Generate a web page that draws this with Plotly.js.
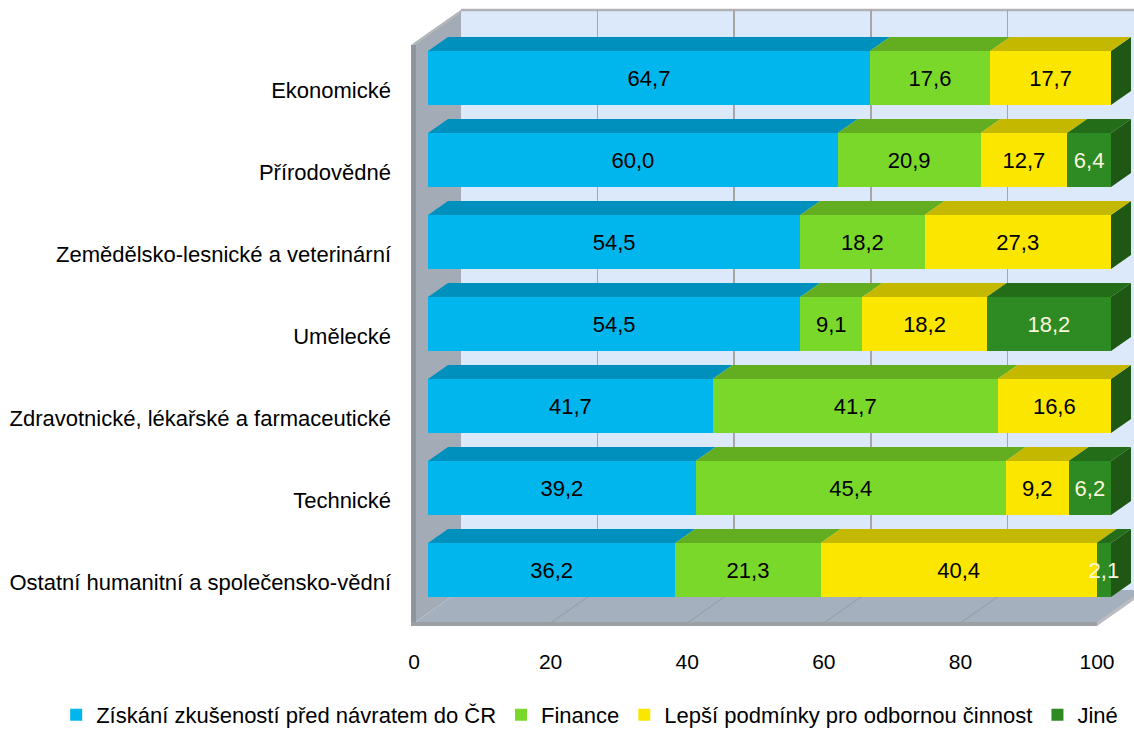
<!DOCTYPE html>
<html>
<head>
<meta charset="utf-8">
<script src="https://cdn.plot.ly/plotly-3.0.1.min.js"></script>
<style>
html,body{margin:0;padding:0;background:#fff;}
#chart{width:1134px;height:729px;}
</style>
</head>
<body>
<div id="chart"></div>
<script>
// ---------------- DATA ----------------
const categories = [
  "Ekonomické",
  "Přírodovědné",
  "Zemědělsko-lesnické a veterinární",
  "Umělecké",
  "Zdravotnické, lékařské a farmaceutické",
  "Technické",
  "Ostatní humanitní a společensko-vědní"
];
const seriesNames = [
  "Získání zkušeností před návratem do ČR",
  "Finance",
  "Lepší podmínky pro odbornou činnost",
  "Jiné"
];
const zkusenosti = [64.7, 60.0, 54.5, 54.5, 41.7, 39.2, 36.2];
const finance    = [17.6, 20.9, 18.2,  9.1, 41.7, 45.4, 21.3];
const lepsi      = [17.7, 12.7, 27.3, 18.2, 16.6,  9.2, 40.4];
const jine       = [ 0.0,  6.4,  0.0, 18.2,  0.0,  6.2,  2.1];
const xTicks = [0, 20, 40, 60, 80, 100];

// ---------------- STYLE / GEOMETRY ----------------
const W = 1134, H = 729;
const S = 6.83;            // px per unit along x
const X0 = 414;            // pixel of value 0 on front floor edge
const Y0 = 90, STEP = 82;  // pixel centre of first category & spacing
const FLOOR_Y = 623, TOP_Y = 43;
const BAR_OFF = [14, -12];     // bars front plane offset
const BAR_DEPTH = [20, -14];   // bar depth (top / side faces)
const WALL_OFF = [47, -33];    // back wall offset
const BAR_W = 0.66;

const frontCols = ["#00b6ec", "#7ad82a", "#fbe600", "#2e8a22"];
const topCols   = ["#0090be", "#63ae20", "#c5b800", "#236c18"];
const sideCol   = "#1e5814";
const textCols  = ["#000000", "#000000", "#000000", "#fbf7dc"];
const regular = "Liberation Sans, Arial, sans-serif";

const P = (px, py) => [px / W, 1 - py / H];
function pathPaper(pts) {
  return "M" + pts.map(p => { const q = P(p[0], p[1]); return q[0] + "," + q[1]; }).join(" L") + " Z";
}

const seriesVals = [zkusenosti, finance, lepsi, jine];
const yIdx = categories.map((c, i) => i);
const fmt = v => v > 0 ? v.toFixed(1).replace(".", ",") : "";

const yRange = [(FLOOR_Y - Y0) / STEP, (TOP_Y - Y0) / STEP];

// ---------------- TRACES ----------------
const traces = [];
// placeholder traces so that the helper subplots exist
traces.push({type: "scatter", x: [], y: [], xaxis: "x", yaxis: "y", showlegend: false, hoverinfo: "skip"});
traces.push({type: "scatter", x: [], y: [], xaxis: "x2", yaxis: "y2", showlegend: false, hoverinfo: "skip"});

seriesVals.forEach((vals, s) => {
  traces.push({
    type: "bar",
    orientation: "h",
    name: seriesNames[s],
    x: vals,
    y: yIdx,
    xaxis: "x3",
    yaxis: "y3",
    marker: {color: frontCols[s], line: {width: 0}},
    text: vals.map(fmt),
    texttemplate: "%{text}",
    textposition: "inside",
    insidetextanchor: "middle",
    textangle: 0,
    constraintext: "none",
    cliponaxis: false,
    textfont: {family: regular, size: 22, color: textCols[s]},
    hoverinfo: "x+name"
  });
});

// ---------------- SHAPES ----------------
const shapes = [];
// back wall
shapes.push({type: "rect", xref: "paper", yref: "paper", layer: "below",
  x0: P(X0 + WALL_OFF[0], 0)[0], x1: 1, y0: P(0, FLOOR_Y + WALL_OFF[1])[1], y1: P(0, TOP_Y + WALL_OFF[1])[1],
  fillcolor: "#dbe9fa", line: {width: 0}});
shapes.push({type: "line", xref: "paper", yref: "paper", layer: "below",
  x0: P(X0 + WALL_OFF[0], 0)[0], x1: 1, y0: P(0, TOP_Y + WALL_OFF[1])[1], y1: P(0, TOP_Y + WALL_OFF[1])[1],
  line: {color: "#b2b2b2", width: 2.5}});
// left wall
shapes.push({type: "path", xref: "paper", yref: "paper", layer: "below",
  path: pathPaper([[X0, TOP_Y], [X0 + WALL_OFF[0], TOP_Y + WALL_OFF[1]], [X0 + WALL_OFF[0], FLOOR_Y + WALL_OFF[1]], [X0, FLOOR_Y]]),
  fillcolor: "#a3acb6", line: {width: 0}});
shapes.push({type: "path", xref: "paper", yref: "paper", layer: "below",
  path: pathPaper([[X0 - 3, TOP_Y + 2], [X0 + WALL_OFF[0] - 3, TOP_Y + WALL_OFF[1] + 2], [X0 + WALL_OFF[0] + 1, TOP_Y + WALL_OFF[1] + 2], [X0 + 1, TOP_Y + 2]]),
  fillcolor: "#b4b8bc", line: {width: 0}});
shapes.push({type: "rect", xref: "paper", yref: "paper", layer: "below",
  x0: P(X0 - 3, 0)[0], x1: P(X0 + 2, 0)[0], y0: P(0, FLOOR_Y + 3)[1], y1: P(0, TOP_Y + 2)[1],
  fillcolor: "#8e959c", line: {width: 0}});
// floor
shapes.push({type: "path", xref: "paper", yref: "paper", layer: "below",
  path: pathPaper([[X0, FLOOR_Y], [X0 + WALL_OFF[0], FLOOR_Y + WALL_OFF[1]], [X0 + WALL_OFF[0] + S * 100, FLOOR_Y + WALL_OFF[1]], [X0 + S * 100, FLOOR_Y]]),
  fillcolor: "#a5b0be", line: {width: 0}});
xTicks.filter(v => v > 0 && v < 100).forEach(v => {
  shapes.push({type: "line", xref: "paper", yref: "paper", layer: "below",
    x0: P(X0 + S * v, 0)[0], y0: P(0, FLOOR_Y)[1],
    x1: P(X0 + WALL_OFF[0] + S * v, 0)[0], y1: P(0, FLOOR_Y + WALL_OFF[1])[1],
    line: {color: "#97a1ad", width: 1.2}});
});
shapes.push({type: "rect", xref: "paper", yref: "paper", layer: "below",
  x0: P(X0 - 3, 0)[0], x1: P(X0 + S * 100, 0)[0], y0: P(0, FLOOR_Y + 3)[1], y1: P(0, FLOOR_Y - 1)[1],
  fillcolor: "#9c9fa4", line: {width: 0}});
shapes.push({type: "path", xref: "paper", yref: "paper", layer: "below",
  path: pathPaper([[X0 + S * 100, FLOOR_Y - 1], [X0 + WALL_OFF[0] + S * 100, FLOOR_Y + WALL_OFF[1] - 1], [X0 + WALL_OFF[0] + S * 100, FLOOR_Y + WALL_OFF[1] + 3], [X0 + S * 100, FLOOR_Y + 3]]),
  fillcolor: "#b9bcc0", line: {width: 0}});

// bar top faces and side faces (in bar axes units)
const DX = BAR_DEPTH[0] / S;
const DY = BAR_DEPTH[1] / STEP;  // negative -> upward on reversed axis
categories.forEach((c, i) => {
  let cum = 0;
  const yTop = i - BAR_W / 2, yBot = i + BAR_W / 2;
  seriesVals.forEach((vals, s) => {
    const v = vals[i];
    if (v > 0) {
      const a = cum, b = cum + v;
      shapes.push({type: "path", xref: "x3", yref: "y3", layer: "above",
        path: `M${a},${yTop} L${b},${yTop} L${b + DX},${yTop + DY} L${a + DX},${yTop + DY} Z`,
        fillcolor: topCols[s], line: {width: 0}});
    }
    cum += v;
  });
  shapes.push({type: "path", xref: "x3", yref: "y3", layer: "below",
    path: `M${cum},${yTop} L${cum + DX},${yTop + DY} L${cum + DX},${yBot + DY} L${cum},${yBot} Z`,
    fillcolor: sideCol, line: {width: 0}});
});

// ---------------- LAYOUT ----------------
const layout = {
  width: W, height: H,
  margin: {l: 0, r: 0, t: 0, b: 0, autoexpand: false},
  paper_bgcolor: "#ffffff",
  plot_bgcolor: "rgba(0,0,0,0)",
  separators: ",.",
  barmode: "stack",
  bargap: 1 - BAR_W,
  showlegend: true,
  legend: {
    orientation: "h", x: 0.52, xanchor: "center", y: 1 - 715 / H, yanchor: "middle",
    font: {family: regular, size: 22, color: "#000"}, traceorder: "normal",
    bgcolor: "rgba(0,0,0,0)", itemwidth: 30
  },
  // front floor plane: tick labels
  xaxis: {
    domain: [X0 / W, 1], range: [0, (W - X0) / S], anchor: "y",
    tickvals: xTicks, ticktext: xTicks.map(String),
    showgrid: false, zeroline: false, showline: false, ticks: "",
    ticklabelstandoff: 24,
    tickfont: {family: regular, size: 21, color: "#000"}, fixedrange: true
  },
  yaxis: {
    domain: [1 - FLOOR_Y / H, 1 - TOP_Y / H], range: yRange, anchor: "x",
    tickvals: yIdx, ticktext: categories,
    showgrid: false, zeroline: false, showline: false, ticks: "",
    ticklabelstandoff: 22,
    tickfont: {family: regular, size: 22, color: "#000"}, fixedrange: true
  },
  // back wall plane: grid lines
  xaxis2: {
    domain: [(X0 + WALL_OFF[0]) / W, 1], range: [0, (W - X0 - WALL_OFF[0]) / S], anchor: "y2",
    tickvals: xTicks, showticklabels: false, showgrid: true, gridcolor: "#a6a6a6", gridwidth: 1.5,
    zeroline: false, showline: false, ticks: "", fixedrange: true
  },
  yaxis2: {
    domain: [1 - (FLOOR_Y + WALL_OFF[1]) / H, 1 - (TOP_Y + WALL_OFF[1]) / H], range: [0, 1], anchor: "x2",
    showgrid: false, showticklabels: false, zeroline: false, showline: false, ticks: "", fixedrange: true
  },
  // bar front plane
  xaxis3: {
    domain: [(X0 + BAR_OFF[0]) / W, 1], range: [0, (W - X0 - BAR_OFF[0]) / S], anchor: "y3",
    visible: false, fixedrange: true
  },
  yaxis3: {
    domain: [1 - (FLOOR_Y + BAR_OFF[1]) / H, 1 - (TOP_Y + BAR_OFF[1]) / H], range: yRange, anchor: "x3",
    visible: false, fixedrange: true
  },
  shapes: shapes
};

Plotly.newPlot("chart", traces, layout, {displayModeBar: false, staticPlot: true});
</script>
</body>
</html>
